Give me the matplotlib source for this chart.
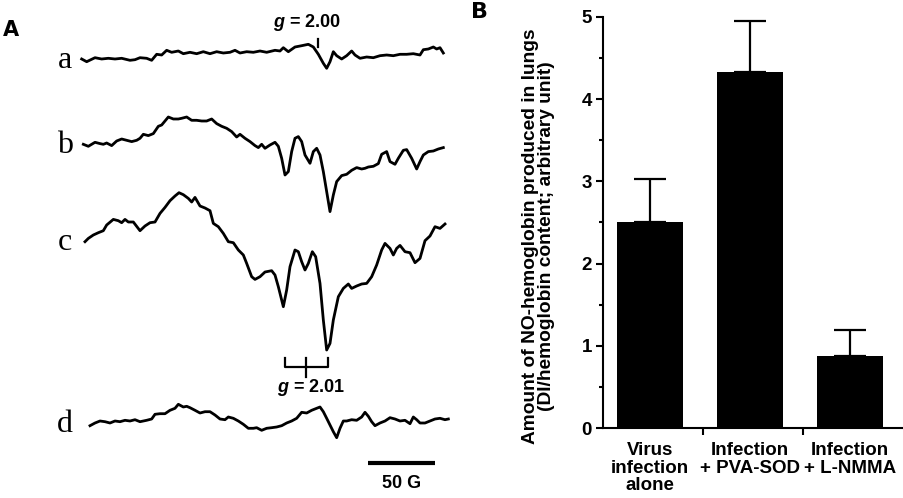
import numpy as np
import matplotlib
matplotlib.use('Agg')
import matplotlib.pyplot as plt

plt.rcParams['font.family'] = ['Liberation Sans', 'DejaVu Sans']
plt.rcParams['mathtext.fontset'] = 'custom'
plt.rcParams['mathtext.it'] = 'Liberation Sans:italic:bold'
plt.rcParams['mathtext.rm'] = 'Liberation Sans:bold'

# ---- panel A: EPR spectra (field in G, signal in arbitrary units) ----
field_a = [1.25, 5, 11.25, 16.25, 21.25, 26.25, 31.25, 37.5, 41.25, 45, 50, 53.75, 57.5, 61.25, 65,
           68.75, 73.75, 77.5, 82.5, 87.5, 92.5, 97.5, 102.5, 107.5, 112.5, 116.25, 120, 125, 130,
           135, 140, 146.25, 150, 152.5, 156.25, 161.25, 166.25, 171.25, 175, 178.75, 182.5, 185,
           187.5, 190, 192.5, 196.25, 200, 203.75, 206.25, 210, 215, 220, 225, 230, 235, 240, 245,
           250, 255, 257.5, 261.25, 265, 267.5, 270, 272.5]
sig_a = [0, -2.7, 1.3, 0, 0.7, 0, 0.7, -1.3, -0.7, 1.3, 0.7, -1.3, 4.7, 4, 8.7,
         6.7, 8, 5.3, 6.7, 5.3, 7.3, 5.3, 7.3, 6, 6.7, 8.7, 6, 7.3, 6.7,
         8, 6.7, 8.7, 8, 11.3, 7.3, 12, 13.3, 14.7, 12, 4.7, -4.3, -9.3,
         -2.7, 7.3, 3.3, 0, 3.3, 8, 4, 0.7, 2, 1.3, 3.3, 4, 3.3, 4.7, 4.7,
         5.3, 4, 9.3, 10, 12, 10, 11.3, 6]

field_b = [2.5, 6.25, 11.25, 15, 17.5, 20, 23.75, 27.5, 31.25, 35, 38.75, 42.5, 45, 47.5, 51.25,
           55, 58.75, 61.25, 63.75, 66.25, 70, 73.75, 76.25, 80, 83.75, 87.5, 91.25, 95, 98.75,
           102.5, 106.25, 110, 113.75, 117.5, 120, 123.75, 127.5, 131.25, 133.75, 136.25, 138.75,
           142.5, 146.25, 148.75, 151.25, 153.75, 156.25, 158.75, 161.25, 163.75, 166.25, 168.75,
           172.5, 175, 177.5, 180, 182.5, 185, 187.5, 190, 192.5, 196.25, 200, 203.75, 207.5,
           211.25, 213.75, 216.25, 220, 223.75, 226.25, 230, 232.5, 236.25, 238.75, 242.5, 245,
           248.75, 252.5, 255, 257.5, 261.25, 265, 268.75, 272.5]
sig_b = [0, -2, 2, 0.7, 0, 1.3, -1.3, 3.3, 5.3, 4, 2.7, 4, 6, 10, 8.7,
         10.7, 18, 19.3, 23.3, 27.3, 25.3, 25.3, 26, 27.3, 24, 24, 23.3, 23.3, 25.3,
         20.7, 18, 16, 12.7, 7.3, 10, 6, 2.7, -1.3, -3.3, 0, -4,
         -0.7, 2, -2, -14, -30.7, -27.3, -7.3, 6, 7.7, 2.7, -10.7,
         -19, -7.3, -4, -10.7, -27.3, -47.3, -67.3, -50.7, -37.3, -31.3, -30, -26, -23.3,
         -24.7, -24, -22.7, -22, -19.3, -10, -7.3, -17.3, -20, -14, -6, -5.3,
         -14, -24.7, -17.3, -10.7, -7.3, -6.7, -4.7, -3.3]

field_c = [3.75, 6.25, 10, 13.75, 17.5, 20, 25, 28.75, 31.25, 33.75, 36.25, 40, 45, 48.75, 52.5,
           56.25, 60, 63.75, 67.5, 71.25, 74.25, 77.5, 81.25, 83.75, 86.25, 90, 93.75, 97.5, 100,
           103.75, 107.5, 111.25, 115, 118.75, 122.5, 125, 128.75, 131.25, 135, 138.75, 143.75,
           146.25, 148.75, 152.5, 155, 157.5, 161.25, 163.75, 166.25, 168.75, 171.25, 174.25,
           176.75, 180, 182.5, 185, 187.5, 190, 193.75, 197.5, 201.25, 203.75, 207.5, 211.25, 215,
           218.75, 222.5, 226.25, 228.75, 232.5, 235, 237.5, 240, 243.75, 247.5, 251.25, 255,
           258.75, 262.5, 266.25, 270, 273.75]
sig_c = [0, 3.3, 6.7, 9, 11, 16.7, 22.3, 21, 19, 22.3, 19.7, 19.7, 11, 15.7, 19,
         19.7, 28.3, 34.3, 41, 45.7, 49, 47, 43.3, 39.7, 44.3, 35.7, 33.7, 31, 18.3,
         15, 8.3, 0, -1, -8.3, -13.3, -21.7, -35, -37.7, -35, -30.3, -29,
         -33.3, -45, -65, -48.3, -25, -8.3, -10, -20, -28.3, -21.7, -10,
         -15, -41.7, -78.3, -108.3, -101.7, -78.3, -55, -46.7, -42.3, -46.7, -44.3, -42.3, -41.7,
         -35, -23.3, -8.3, -1.7, -6.7, -13.3, -6.7, -3.7, -10, -11, -21, -16.7,
         1, 5.7, 15, 13.3, 17.7]

field_d = [7.5, 11.25, 15, 18.75, 22.5, 26.25, 30, 33.75, 37.5, 41.25, 45, 50, 53.75, 56.25, 60,
           63.75, 67.5, 71.25, 73.75, 77.5, 80, 82.5, 86.25, 90, 93.75, 97.5, 101.25, 105, 108.75,
           111.25, 115, 118.75, 122.5, 126.25, 130, 132.5, 136.25, 140, 143.75, 147.5, 151.25,
           155, 158.75, 162.5, 166.25, 170, 173.75, 177.5, 180, 182.5, 185, 187.5, 190, 192.5,
           195, 197.5, 200, 203.75, 207.5, 211.25, 213.75, 216.25, 218.75, 221.25, 225, 228.75,
           232.5, 236.25, 240, 243.75, 247.5, 250, 252.5, 255, 258.75, 262.5, 266.25, 270,
           273.75, 276.25]
sig_d = [-2.7, 0, 2, 1.3, 0, 2, 1.3, 2.7, 2, 3.3, 1.3, 2.7, 4, 8.7, 9.3,
         9.3, 12.7, 14.7, 18.7, 16, 16.7, 15.3, 12.7, 10, 11.3, 11.3, 8, 4, 3.3,
         6, 4.7, 2, -1.3, -5.3, -5.3, -4.7, -7.3, -5.3, -4.7, -4, -2.7,
         0, 2, 4.7, 10.7, 10, 12.7, 14.7, 16, 11.3, 4.7, -2, -8.7, -14.7,
         -5.3, 2, 2, 3.3, 2.7, 6, 10.7, 6.7, 1.3, -2.7, 0, 2,
         5.3, 4, 2, 2.7, -0.7, 6, 3.3, 0, 0, 2, 4, 4.7,
         3.3, 4]

trace_names = ['a', 'b', 'c', 'd']

# ---- panel B: bar chart ----
groups = ['Virus\ninfection\nalone', 'Infection\n+ PVA-SOD', 'Infection\n+ L-NMMA']
no_hb = [2.50, 4.33, 0.87]
no_hb_err = [0.53, 0.62, 0.32]

fig = plt.figure(figsize=(9.04, 4.98), dpi=100)

# panel A axes, x in gauss, y in pixel-like units from top
axA = fig.add_axes([0, 0, 460 / 904, 1])
axA.set_xlim(-60, 285)
axA.set_ylim(498, 0)
axA.axis('off')

baselines = [59, 144.3, 241.7, 423]
traces = [(field_a, sig_a), (field_b, sig_b), (field_c, sig_c), (field_d, sig_d)]
for name, (fx, sy), base in zip(trace_names, traces, baselines):
    axA.plot(fx, base - np.array(sy), color='black', lw=2.0, solid_joinstyle='round')
    axA.text(-11, base + 1, name, family='Liberation Serif', fontsize=23,
             ha='center', va='center')

# g = 2.00 marker
axA.plot([178.5, 178.5], [39, 47], color='black', lw=1.6)
axA.text(170, 22, r'$g$ = 2.00', fontsize=13, fontweight='bold', ha='center', va='center')

# g = 2.01 bracket
axA.plot([153.75, 153.75, 186, 186], [358, 366.7, 366.7, 358], color='black', lw=1.6)
axA.plot([169.5, 169.5], [358, 377], color='black', lw=1.6)
axA.text(173, 387, r'$g$ = 2.01', fontsize=13, fontweight='bold', ha='center', va='center')

# 50 G scale bar
axA.plot([216, 266], [462.7, 462.7], color='black', lw=3, solid_capstyle='butt')
axA.text(241, 483, '50 G', fontsize=13, fontweight='bold', ha='center', va='center')

fig.text(3 / 904, 1 - 30 / 498, 'A', family='DejaVu Sans', fontsize=15,
         fontweight='heavy', va='center')
fig.text(471 / 904, 1 - 12 / 498, 'B', family='DejaVu Sans', fontsize=16,
         fontweight='heavy', va='center')

# panel B axes
axB = fig.add_axes([603 / 904, 70 / 498, 300 / 904, 411 / 498])
pos = np.arange(len(groups)) + 0.47
axB.bar(pos, no_hb, width=0.66, color='black')
axB.errorbar(pos, no_hb, yerr=[np.zeros(len(no_hb)), no_hb_err], fmt='none',
             ecolor='black', elinewidth=1.6, capsize=11.5, capthick=1.6)
axB.set_xlim(0, 3)
axB.set_ylim(0, 5)
axB.set_yticks(range(6))
axB.set_yticks(np.arange(0.5, 5, 1.0), minor=True)
axB.set_xticks(pos)
axB.set_xticklabels(groups, fontsize=13.5, fontweight='bold', linespacing=1.05)
axB.set_xticks([1, 2], minor=True)
axB.tick_params(axis='x', which='major', length=0, pad=10)
axB.tick_params(axis='x', which='minor', length=5, width=1.5, direction='out')
axB.tick_params(axis='y', which='major', length=5, width=1.5, pad=3, labelsize=13.5)
axB.tick_params(axis='y', which='minor', length=3, width=1.5)
for lab in axB.get_yticklabels():
    lab.set_fontweight('bold')
for side in ['top', 'right']:
    axB.spines[side].set_visible(False)
for side in ['left', 'bottom']:
    axB.spines[side].set_linewidth(1.5)
axB.set_ylabel('Amount of NO-hemoglobin produced in lungs\n(DI/hemoglobin content; arbitrary unit)',
               fontsize=13.8, fontweight='bold', linespacing=0.9)
axB.yaxis.set_label_coords(-0.16, 0.466)

fig.savefig('out.png', dpi=100)
